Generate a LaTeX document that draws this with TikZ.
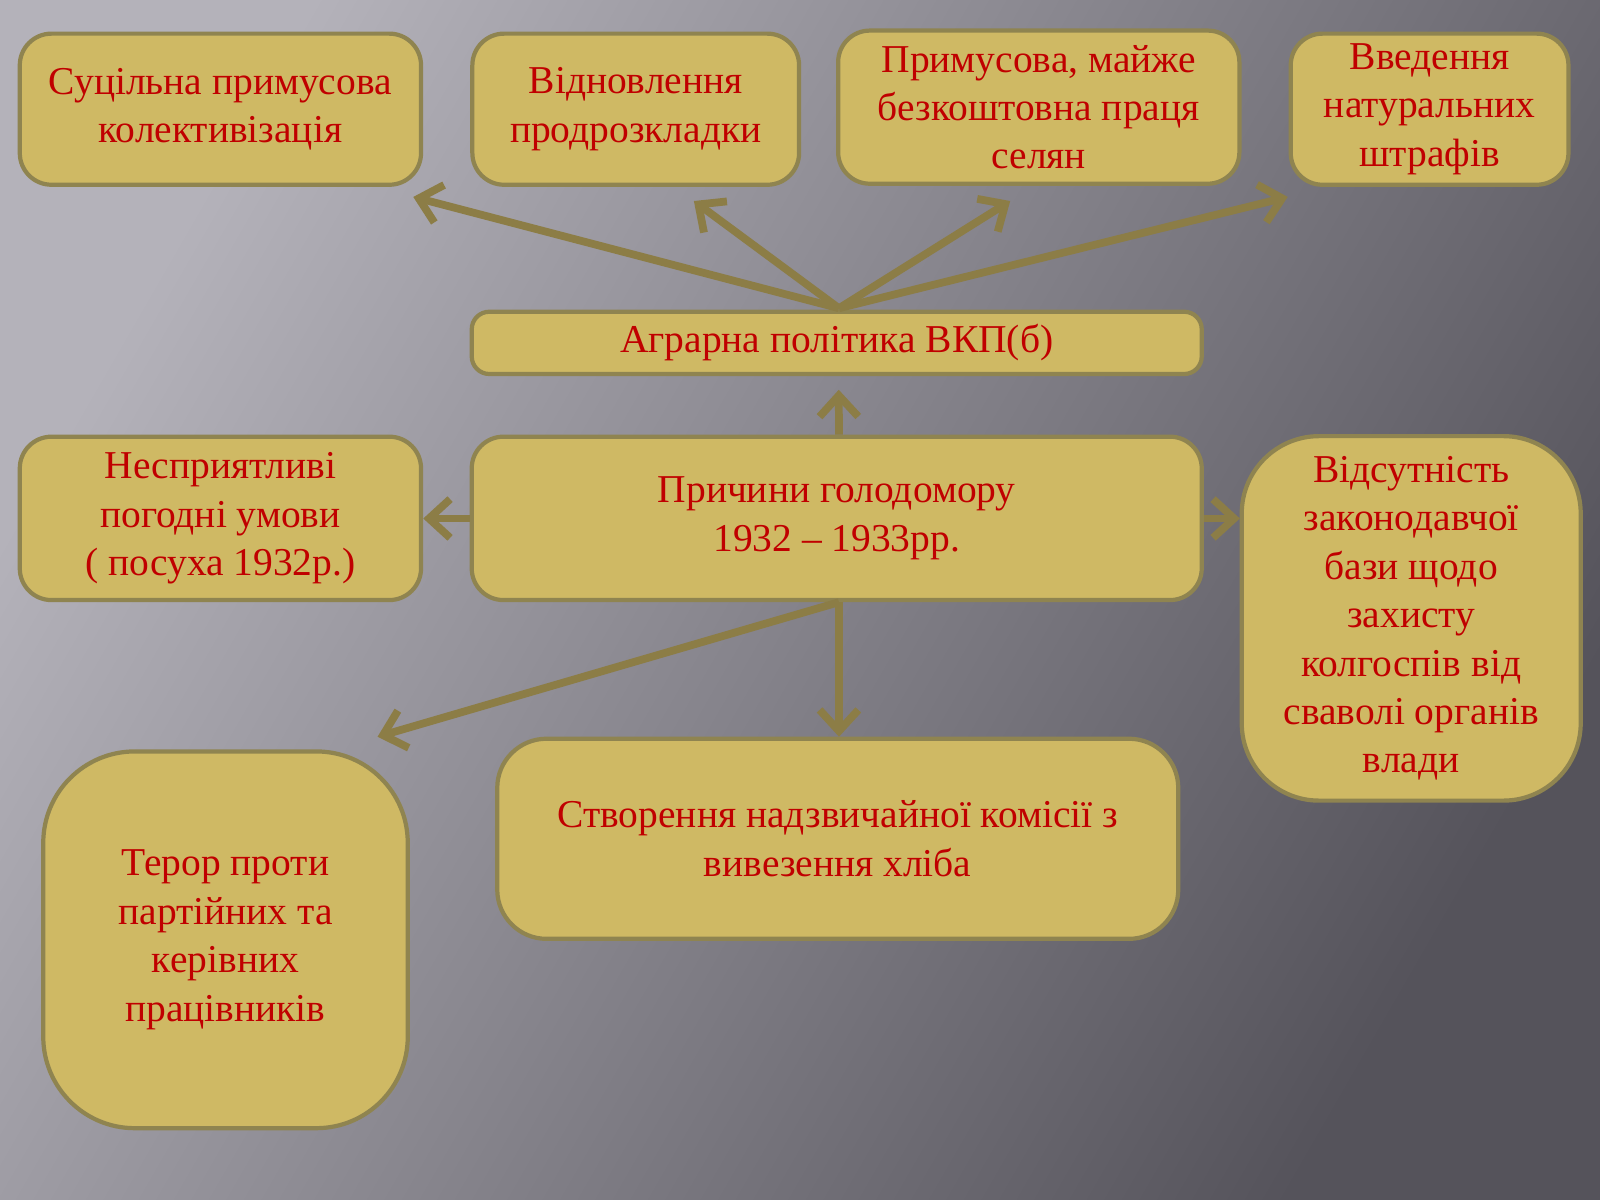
\documentclass[tikz,border=0pt]{standalone}
\usepackage{fontspec}
\setmainfont{Liberation Serif}
\usetikzlibrary{arrows.meta}
\definecolor{boxfill}{HTML}{CFB964}
\definecolor{boxline}{HTML}{8F8450}
\definecolor{arrowcol}{HTML}{8C7D46}
\definecolor{txtred}{HTML}{C00000}
\definecolor{bgleft}{HTML}{B4B2BA}
\definecolor{bgright}{HTML}{55535B}
\tikzset{
  cbox/.style={draw=boxline, line width=1.2pt, fill=boxfill, rounded corners=9pt,
    text=txtred, align=center, font=\fontsize{11}{13.5}\selectfont, inner sep=2pt},
  arr/.style={draw=arrowcol, line width=2.2pt, -{Straight Barb[length=6pt,width=11pt]}}
}
\begin{document}
\begin{tikzpicture}[x=0.01cm,y=-0.01cm,scale=1.0204,every node/.style={transform shape}]
\useasboundingbox (0,0) rectangle (1568,1176);
\begin{scope}
\clip (0,0) rectangle (1568,1176);
\shade[left color=bgleft, right color=bgright, shading angle=60] (0,0) rectangle (1568,1176);
\end{scope}

\node[cbox, minimum width=3.93cm, minimum height=1.48cm] (coll) at (216,107) {Суцільна примусова\\колективізація};
\node[cbox, minimum width=3.2cm, minimum height=1.48cm] (prod) at (623,107) {Відновлення\\продрозкладки};
\node[cbox, minimum width=3.93cm, minimum height=1.5cm] (labr) at (1018,105) {Примусова, майже\\безкоштовна праця\\селян};
\node[cbox, minimum width=2.72cm, minimum height=1.48cm] (fine) at (1401,107) {Введення\\натуральних\\штрафів};
\node[cbox, rounded corners=5pt, minimum width=7.15cm, minimum height=0.61cm] (agr) at (820,336) {Аграрна політика ВКП(б)};
\node[cbox, minimum width=7.15cm, minimum height=1.6cm] (cause) at (820,508) {Причини голодомору\\1932 – 1933рр.};
\node[cbox, minimum width=3.93cm, minimum height=1.6cm] (weat) at (216,508) {Несприятливі\\погодні умови\\( посуха 1932р.)};
\node[cbox, rounded corners=22pt, minimum width=3.32cm, minimum height=3.57cm] (law) at (1383,606) {Відсутність\\законодавчої\\бази щодо\\захисту\\колгоспів від\\сваволі органів\\влади};
\node[cbox, rounded corners=26pt, minimum width=3.57cm, minimum height=3.69cm] (terr) at (221,921) {Терор проти\\партійних та\\керівних\\працівників};
\node[cbox, rounded corners=14pt, minimum width=6.67cm, minimum height=1.96cm] (comm) at (821,822) {Створення надзвичайної комісії з\\вивезення хліба};

\coordinate (hub) at (822,302);
\coordinate (low) at (822,590);
\draw[arr] (hub) -- (405,193);
\draw[arr] (hub) -- (680,197);
\draw[arr] (hub) -- (990,197);
\draw[arr] (hub) -- (1262,193);
\draw[arr] (cause.north -| hub) -- (822,382);
\draw[arr] (cause.west) -- (weat.east);
\draw[arr] (cause.east) -- (law.west |- cause.east);
\draw[arr] (low) -- (370,722);
\draw[arr] (low) -- (comm.north -| low);
\end{tikzpicture}
\end{document}
